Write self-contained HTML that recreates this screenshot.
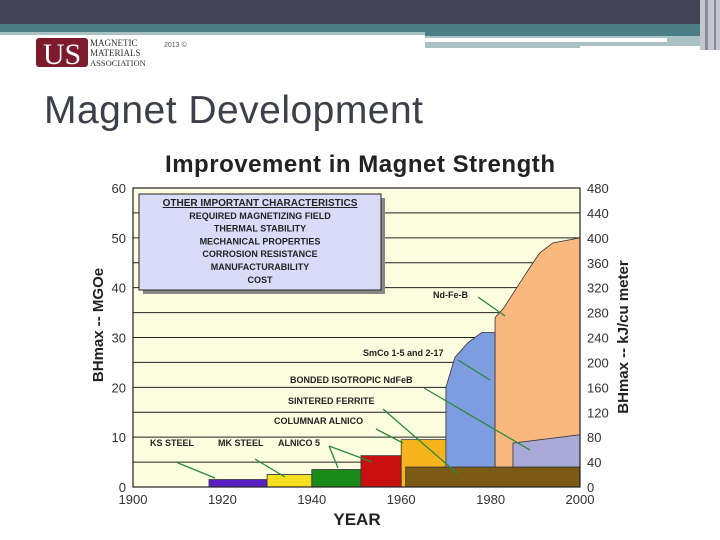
<!DOCTYPE html>
<html><head><meta charset="utf-8"><style>
html,body{margin:0;padding:0;width:720px;height:540px;overflow:hidden;background:#fff;font-family:"Liberation Sans",sans-serif}
svg{display:block}
</style></head><body>
<svg width="720" height="540" viewBox="0 0 720 540" xmlns="http://www.w3.org/2000/svg">
<g>
<rect x="0" y="0" width="720" height="24" fill="#434556"/>
<rect x="0" y="24" width="720" height="9" fill="#4a8085"/>
<rect x="0" y="32" width="425" height="3" fill="#a9c1c3"/>
<rect x="425" y="33" width="280" height="3" fill="#4a8085"/>
<rect x="425" y="36" width="280" height="12" fill="#a9c1c3"/>
<rect x="425" y="38" width="242" height="4" fill="#fff"/>
<rect x="580" y="46" width="130" height="3" fill="#fff"/>
<rect x="700" y="0" width="20" height="50" fill="#c4c8cc"/>
<rect x="705" y="0" width="3" height="50" fill="#8a8d99"/>
<rect x="714" y="0" width="2" height="50" fill="#8a8d99"/>
</g>
<g>
<rect x="36" y="38" width="52" height="29" rx="3" fill="#7d1a2c"/>
<text x="62" y="64" font-family="Liberation Serif" font-size="30" fill="#fff" text-anchor="middle">US</text>
<text x="90" y="46" font-family="Liberation Serif" font-size="9" fill="#333">MAGNETIC</text>
<text x="90" y="56" font-family="Liberation Serif" font-size="9" fill="#333">MATERIALS</text>
<text x="90" y="66" font-family="Liberation Serif" font-size="8.5" fill="#333">ASSOCIATION</text>
<text x="164" y="47" font-size="7" fill="#555">2013 ©</text>
</g>
<text x="44" y="123" font-size="39" fill="#3d3f4a" textLength="379">Magnet Development</text>
<text x="360" y="172" font-size="24" font-weight="bold" fill="#222" text-anchor="middle" textLength="390">Improvement in Magnet Strength</text>
<g id="chart"></g>
</svg>
<script>
const years=[1900,1920,1940,1960,1980,2000];
const leftTicks=[0,10,20,30,40,50,60];
const rightTicks=[0,40,80,120,160,200,240,280,320,360,400,440,480];
const ksSteel=[[1917,0],[1917,1.5],[1930,1.5],[1930,0]];
const mkSteel=[[1930,0],[1930,2.5],[1940,2.5],[1940,0]];
const alnico5=[[1940,0],[1940,3.5],[1951,3.5],[1951,0]];
const alnico5b=[[1951,0],[1951,6.3],[1960,6.3],[1960,0]];
const columnar=[[1960,0],[1960,9.5],[1970,9.5],[1970,0]];
const ferrite=[[1961,0],[1961,4],[1997,4],[2000,4.4],[2000,0]];
const smco=[[1970,4],[1970,20],[1972,26],[1975,29],[1978,31],[1981,31],[1981,4]];
const ndfeb=[[1981,4],[1981,34],[1983,36],[1988,43],[1991,47],[1994,49],[2000,50],[2000,4]];
const bonded=[[1985,4],[1985,8.8],[2000,10.5],[2000,4]];
const NS="http://www.w3.org/2000/svg";
const X0=133,X1=580,Y0=487,Y1=188;
const xs=v=>X0+(v-1900)/100*(X1-X0);
const ys=v=>Y0-v/60*(Y0-Y1);
const yr=v=>Y0-v/480*(Y0-Y1);
const g=document.getElementById('chart');
function mk(tag,attrs,parent){const e=document.createElementNS(NS,tag);for(const k in attrs)e.setAttribute(k,attrs[k]);(parent||g).appendChild(e);return e;}
const bg=mk('rect',{x:X0,y:Y1,width:X1-X0,height:Y0-Y1,fill:'#fdfde0'});


for(let v=5;v<60;v+=5){const l=mk('line',{x1:X0,x2:X1,y1:ys(v),y2:ys(v),stroke:'#222','stroke-width':1});

}
function poly(pts,fill,name){const p=mk('polygon',{points:pts.map(q=>xs(q[0])+','+ys(q[1])).join(' '),fill:fill,stroke:'#333','stroke-width':0.8});

}
poly(ksSteel,'#5a1fc0','ks-steel-bar');
poly(mkSteel,'#f5e020','mk-steel-bar');
poly(alnico5,'#1a8a1a','alnico5-bar');
poly(alnico5b,'#c81010','alnico5-red-bar');
poly(columnar,'#f8b41c','columnar-alnico-bar');
poly(ferrite,'#7a5a14','sintered-ferrite-area');
poly(smco,'#7e9de0','smco-area');
poly(ndfeb,'#f9b87e','ndfeb-area');
poly(bonded,'#a9a9d8','bonded-ndfeb-area');
mk('rect',{x:X0,y:Y1,width:X1-X0,height:Y0-Y1,fill:'none',stroke:'#222','stroke-width':1.2});
leftTicks.forEach(v=>{const t=mk('text',{x:126,y:ys(v)+5,'font-size':13,fill:'#333','text-anchor':'end'});t.textContent=v;

});
rightTicks.forEach(v=>{const t=mk('text',{x:587,y:yr(v)+5,'font-size':13,fill:'#333'});t.textContent=v;

});
years.forEach(v=>{const t=mk('text',{x:xs(v),y:504,'font-size':13,fill:'#333','text-anchor':'middle'});t.textContent=v;

});
const xt=mk('text',{x:357,y:525,'font-size':17,'font-weight':'bold',fill:'#222','text-anchor':'middle'});xt.textContent='YEAR';


const yl=mk('text',{x:0,y:0,'font-size':15,'font-weight':'bold',fill:'#222','text-anchor':'middle',transform:'translate(103,325) rotate(-90)'});yl.textContent='BHmax -- MGOe';


const yr2=mk('text',{x:0,y:0,'font-size':15,'font-weight':'bold',fill:'#222','text-anchor':'middle',transform:'translate(628,337) rotate(-90)'});yr2.textContent='BHmax -- kJ/cu meter';


mk('rect',{x:143,y:198,width:242,height:96,fill:'#888'});
const box=mk('rect',{x:139,y:194,width:242,height:96,fill:'#d8dcf8',stroke:'#222','stroke-width':1});


const lines=['OTHER IMPORTANT CHARACTERISTICS','REQUIRED MAGNETIZING FIELD','THERMAL STABILITY','MECHANICAL PROPERTIES','CORROSION RESISTANCE','MANUFACTURABILITY','COST'];
lines.forEach((s,i)=>{const t=mk('text',{x:260,y:206+i*12.8,'font-size':i?9:10,'font-weight':'bold',fill:'#222','text-anchor':'middle'});t.textContent=s;if(!i)t.setAttribute('text-decoration','underline');

});
const labels=[['KS STEEL',150,446],['MK STEEL',218,446],['ALNICO 5',278,446],['COLUMNAR ALNICO',274,424],['SINTERED FERRITE',288,404],['BONDED ISOTROPIC NdFeB',290,383],['SmCo 1-5 and 2-17',363,356],['Nd-Fe-B',433,298]];
labels.forEach(l=>{const t=mk('text',{x:l[1],y:l[2],'font-size':9,'font-weight':'bold',fill:'#222'});t.textContent=l[0];

});
const arrows=[[178,463,215,478],[255,459,285,477],[329,446,338,468],[329,446,372,462],[376,429,403,443],[383,409,458,474],[424,388,530,450],[458,360,490,380],[478,297,505,316]];
arrows.forEach(a=>{const l=mk('line',{x1:a[0],y1:a[1],x2:a[2],y2:a[3],stroke:'#2a8a3a','stroke-width':1.3});

});
</script>
</body></html>
